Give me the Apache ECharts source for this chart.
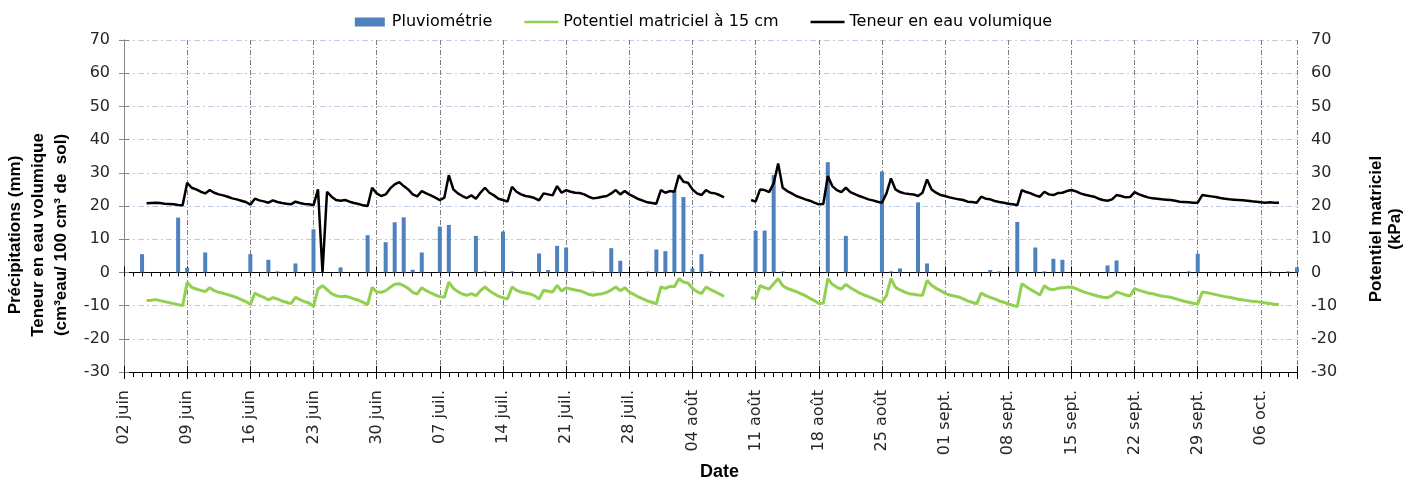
<!DOCTYPE html>
<html>
<head>
<meta charset="utf-8">
<script src="https://cdn.jsdelivr.net/npm/echarts@6/dist/echarts.min.js"></script>
<style>
html,body{margin:0;padding:0;background:#fff;}
#chart{width:1407px;height:479px;}
</style>
</head>
<body>
<div id="chart"></div>
<script>
// Tick labels of the date axis (one every 7 days, starting 02 juin)
const tickLabels = ['02 juin','09 juin','16 juin','23 juin','30 juin','07 juil.','14 juil.','21 juil.','28 juil.',
  '04 août','11 août','18 août','25 août','01 sept.','08 sept.','15 sept.','22 sept.','29 sept.','06 oct.'];

// Daily rainfall (mm), one value per day from 02 juin (day 0) to 10 oct. (day 130)
const pluviometrie = [
  0, 0, 5.5, 0, 0, 0, 16.5,
  1.4, 0, 6.0, 0, 0, 0, 0,
  5.5, 0, 3.8, 0.3, 0, 2.7, 0,
  13.0, 0, 0, 1.5, 0, 0, 11.2,
  0, 9.1, 15.1, 16.6, 0.8, 6.0, 0,
  13.8, 14.3, 0, 0, 11.0, 0.3, 0,
  12.3, 0.3, 0, 0, 5.7, 0.7, 8.0,
  7.5, 0, 0, 0.3, 0, 7.3, 3.5,
  0, 0, 0.3, 6.9, 6.4, 24.7, 22.7,
  1.2, 5.5, 0.4, 0, 0, 0, 0,
  12.6, 12.6, 29.3, 0.3, 0, 0, 0,
  0, 33.2, 0, 11.0, 0, 0, 0,
  30.4, 0.3, 1.2, 0, 21.1, 2.7, 0,
  0, 0, 0, 0, 0, 0.7, 0.3,
  0, 15.2, 0, 7.5, 0.3, 4.1, 3.8,
  0, 0, 0, 0, 2.1, 3.6, 0,
  0, 0, 0, 0, 0, 0, 0.3,
  5.6, 0, 0, 0, 0, 0, 0,
  0, 0.3, 0, 0.3, 1.5
];

// Volumetric water content (cm3/100 cm3), one value every half day from day 0
const teneurEau = [
  null, null, null, null, null, 20.8, 20.9, 21.0, 20.9, 20.7, 20.6, 20.5, 20.3, 20.2,
  27.0, 25.5, 25.0, 24.3, 23.8, 24.8, 24.0, 23.5, 23.2, 22.8, 22.3, 22.0, 21.6, 21.2,
  20.4, 22.2, 21.7, 21.4, 21.0, 21.7, 21.2, 20.9, 20.7, 20.5, 21.3, 20.9, 20.6, 20.5,
  20.2, 25.0, 0, 24.3, 22.8, 21.8, 21.6, 21.8, 21.3, 20.9, 20.6, 20.2, 20.0, 25.5,
  23.8, 23.0, 23.5, 25.3, 26.5, 27.2, 26.0, 25.0, 23.5, 22.9, 24.5, 23.8, 23.2, 22.5,
  21.8, 22.5, 29.3, 25.0, 23.8, 23.0, 22.4, 23.2, 22.2, 24.0, 25.5, 24.0, 23.2, 22.2,
  21.8, 21.3, 25.8, 24.3, 23.5, 23.0, 22.8, 22.4, 21.7, 23.8, 23.5, 23.2, 26.0, 24.0,
  24.8, 24.3, 24.0, 23.9, 23.5, 22.8, 22.3, 22.5, 22.8, 23.0, 23.8, 24.8, 23.5, 24.5,
  23.5, 22.8, 22.1, 21.6, 21.1, 20.9, 20.7, 24.8, 24.0, 24.5, 24.3, 29.3, 27.3, 27.0,
  25.0, 23.8, 23.3, 24.8, 24.0, 23.8, 23.3, 22.6, null, null, null, null, null, 21.8,
  21.3, 25.0, 24.8, 24.2, 26.8, 32.8, 25.5, 24.5, 23.8, 23.0, 22.5, 22.0, 21.6, 21.0,
  20.5, 20.6, 29.0, 26.0, 24.8, 24.2, 25.5, 24.2, 23.6, 23.0, 22.5, 22.0, 21.7, 21.3,
  21.0, 23.8, 28.3, 25.0, 24.2, 23.8, 23.6, 23.5, 23.0, 24.0, 28.0, 25.0, 24.0, 23.3,
  23.0, 22.6, 22.3, 22.0, 21.8, 21.3, 21.2, 21.0, 22.8, 22.2, 22.0, 21.5, 21.2, 21.0,
  20.7, 20.5, 20.2, 24.8, 24.2, 23.8, 23.2, 22.8, 24.3, 23.5, 23.3, 23.9, 24.0, 24.5,
  24.8, 24.4, 23.8, 23.4, 23.1, 22.8, 22.2, 21.8, 21.6, 22.0, 23.3, 23.0, 22.6, 22.7,
  24.2, 23.5, 23.0, 22.6, 22.3, 22.2, 22.0, 21.9, 21.8, 21.6, 21.3, 21.2, 21.1, 21.0,
  21.0, 23.3, 23.1, 22.9, 22.7, 22.4, 22.2, 22.0, 21.9, 21.8, 21.7, 21.6, 21.4, 21.3,
  21.1, 21.0, 21.1, 21.0, 21.0
];

// Matric potential at 15 cm (kPa), one value every half day from day 0
const potentielMatriciel = [
  null, null, null, null, null, -8.5, -8.4, -8.2, -8.5, -8.8, -9.1, -9.4, -9.7, -10.0,
  -3.0, -4.5, -5.0, -5.4, -5.8, -4.6, -5.5, -6.0, -6.3, -6.7, -7.1, -7.6, -8.2, -8.8,
  -9.7, -6.2, -7.0, -7.5, -8.3, -7.6, -8.0, -8.6, -9.0, -9.4, -7.5, -8.2, -8.8, -9.2,
  -10.2, -5.0, -4.0, -5.2, -6.4, -7.0, -7.3, -7.2, -7.5, -8.0, -8.4, -9.0, -9.7, -4.5,
  -5.9, -6.0, -5.5, -4.5, -3.6, -3.4, -4.0, -4.8, -6.0, -6.5, -4.6, -5.5, -6.2, -6.8,
  -7.3, -7.5, -2.9, -4.8, -5.8, -6.5, -6.9, -6.4, -7.0, -5.5, -4.4, -5.5, -6.4, -7.2,
  -7.6, -8.0, -4.4, -5.4, -5.9, -6.2, -6.5, -7.0, -8.0, -5.4, -5.7, -5.9, -3.9, -5.6,
  -4.6, -5.0, -5.3, -5.5, -6.0, -6.6, -6.9, -6.6, -6.4, -6.0, -5.3, -4.4, -5.5, -4.6,
  -5.9, -6.6, -7.4, -8.0, -8.6, -9.0, -9.5, -4.4, -4.8, -4.2, -4.3, -1.9, -2.9, -3.2,
  -4.8, -5.8, -6.4, -4.4, -5.2, -5.8, -6.5, -7.2, null, null, null, null, null, -7.5,
  -8.0, -4.0, -4.6, -5.0, -3.4, -1.9, -4.0, -4.8, -5.3, -5.8, -6.4, -7.0, -7.8, -8.5,
  -9.4, -9.3, -1.9, -3.6, -4.5, -5.0, -3.6, -4.6, -5.4, -6.2, -6.8, -7.3, -7.8, -8.4,
  -9.0, -7.0, -1.9, -4.5, -5.3, -5.9, -6.4, -6.6, -6.8, -6.9, -2.4, -3.9, -4.8, -5.5,
  -6.3, -6.8, -7.1, -7.4, -8.0, -8.6, -9.0, -9.5, -6.2, -7.0, -7.5, -8.0, -8.6, -9.0,
  -9.5, -9.9, -10.3, -3.4, -4.3, -5.2, -6.0, -6.8, -4.0, -5.0, -5.2, -4.8, -4.6, -4.5,
  -4.4, -4.9, -5.5, -6.0, -6.4, -6.8, -7.2, -7.5, -7.6, -7.0, -5.9, -6.3, -6.8, -7.1,
  -4.9, -5.4, -5.8, -6.2, -6.4, -6.8, -7.1, -7.3, -7.5, -7.9, -8.3, -8.7, -9.0, -9.3,
  -9.5, -5.9, -6.1, -6.4, -6.7, -7.0, -7.3, -7.5, -7.8, -8.1, -8.3, -8.5, -8.7, -8.8,
  -9.0, -9.2, -9.4, -9.6, -9.7
];

const STEP = 0.5;       // half-day sampling of the two curves
const DAYS_MAX = 130;   // 02 juin -> 10 oct.
const WEEK = 7;

const FONT = 'DejaVu Sans';
const TITLE_FONT = 'Liberation Sans';
const LINE_ICON = 'path://M0,0 L100,0 L100,8 L0,8 Z';

const chart = echarts.init(document.getElementById('chart'), null, {renderer: 'canvas'});

const xBase = {type: 'value', min: 0, max: DAYS_MAX, gridIndex: 0, position: 'bottom',
  splitLine: {show: false}, axisLabel: {show: false}};

const option = {
  animation: false,
  textStyle: {fontFamily: FONT},
  legend: {
    top: 9, left: 'center', itemWidth: 34, itemHeight: 9, itemGap: 32,
    textStyle: {fontSize: 16, color: '#000', fontFamily: FONT},
    data: [
      {name: 'Pluviométrie', icon: 'path://M0,0 L30,0 L30,9 L0,9 Z'},
      {name: 'Potentiel matriciel à 15 cm', icon: LINE_ICON},
      {name: 'Teneur en eau volumique', icon: LINE_ICON}
    ]
  },
  grid: {left: 124, right: 110, top: 40, bottom: 107, containLabel: false, outerBoundsMode: 'none'},
  xAxis: [
    Object.assign({}, xBase, {
      interval: WEEK,
      axisLine: {show: true, onZero: false, lineStyle: {color: '#000', width: 1}},
      axisTick: {show: true, length: 7, lineStyle: {color: '#000'}},
      axisLabel: {show: true, rotate: 90, fontSize: 16, color: '#262626', margin: 18, fontFamily: FONT,
        formatter: function (v) {
          const k = v / WEEK;
          return (Number.isInteger(k) && k < tickLabels.length) ? tickLabels[k] : '';
        }},
      splitLine: {show: true, lineStyle: {color: '#7f7f7f', type: [5, 2, 1, 2], width: 1}},
      name: 'Date', nameLocation: 'middle', nameGap: 85,
      nameTextStyle: {fontWeight: 'bold', fontSize: 18, color: '#000', fontFamily: TITLE_FONT,
        padding: [0, 0, 0, 18]}
    }),
    Object.assign({}, xBase, {
      interval: 1,
      axisLine: {show: false, onZero: false},
      axisTick: {show: true, length: 5, lineStyle: {color: '#000'}}
    }),
    Object.assign({}, xBase, {
      interval: WEEK,
      axisLine: {show: false, onZero: false},
      axisTick: {show: true, inside: true, length: 6, lineStyle: {color: '#000'}}
    }),
    Object.assign({}, xBase, {
      interval: 1,
      axisLine: {show: true, onZero: true, onZeroAxisIndex: 0, lineStyle: {color: '#000', width: 1}},
      axisTick: {show: true, length: 4, lineStyle: {color: '#000'}}
    }),
    Object.assign({}, xBase, {
      interval: WEEK,
      axisLine: {show: false, onZero: true, onZeroAxisIndex: 0},
      axisTick: {show: true, inside: true, length: 6, lineStyle: {color: '#000'}}
    })
  ],
  yAxis: [
    {
      type: 'value', min: -30, max: 70, interval: 10, position: 'left',
      axisLine: {show: true, lineStyle: {color: '#868686'}},
      axisTick: {show: true, length: 5, lineStyle: {color: '#868686'}},
      axisLabel: {fontSize: 16, color: '#262626', margin: 14, fontFamily: FONT},
      splitLine: {show: true, lineStyle: {color: '#B9CDE5', type: [6, 3, 2, 3], width: 1}},
      name: 'Précipitations (mm)\nTeneur en eau volumique\n(cm³eau/ 100 cm³ de  sol)',
      nameLocation: 'middle', nameRotate: 90, nameGap: 50,
      nameTextStyle: {fontWeight: 'bold', fontSize: 17, lineHeight: 23, color: '#000',
        fontFamily: TITLE_FONT, padding: [0, 58, 0, 0]}
    },
    {
      type: 'value', min: -30, max: 70, interval: 10, position: 'right',
      axisLine: {show: true, lineStyle: {color: '#868686'}},
      axisTick: {show: true, length: 5, lineStyle: {color: '#868686'}},
      axisLabel: {fontSize: 16, color: '#262626', margin: 14, fontFamily: FONT},
      splitLine: {show: false},
      name: 'Potentiel matriciel\n(kPa)',
      nameLocation: 'middle', nameRotate: 90, nameGap: 70,
      nameTextStyle: {fontWeight: 'bold', fontSize: 17, lineHeight: 19, color: '#000',
        fontFamily: TITLE_FONT, padding: [0, 46, 0, 0]}
    }
  ],
  series: [
    {
      name: 'Pluviométrie', type: 'bar', xAxisIndex: 0, yAxisIndex: 0,
      barWidth: 4, itemStyle: {color: '#4F81BD'}, z: 2,
      data: pluviometrie.map(function (v, i) { return [i, v]; })
    },
    {
      name: 'Potentiel matriciel à 15 cm', type: 'line', xAxisIndex: 0, yAxisIndex: 1,
      symbol: 'none', showSymbol: false, connectNulls: false, z: 3,
      lineStyle: {color: '#92D050', width: 3}, itemStyle: {color: '#92D050'},
      data: potentielMatriciel.map(function (v, i) { return [i * STEP, v]; })
    },
    {
      name: 'Teneur en eau volumique', type: 'line', xAxisIndex: 0, yAxisIndex: 0,
      symbol: 'none', showSymbol: false, connectNulls: false, z: 4,
      lineStyle: {color: '#000', width: 2.5}, itemStyle: {color: '#000'},
      data: teneurEau.map(function (v, i) { return [i * STEP, v]; })
    }
  ]
};
chart.setOption(option);
</script>
</body>
</html>
